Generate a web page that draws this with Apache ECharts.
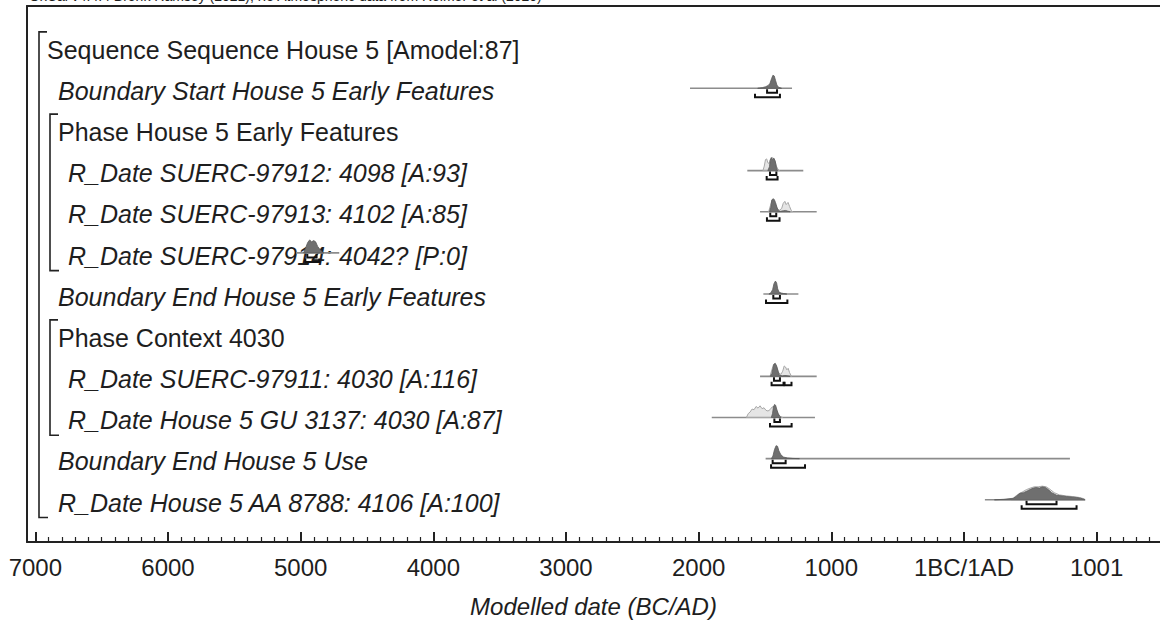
<!DOCTYPE html>
<html>
<head>
<meta charset="utf-8">
<script src="https://cdn.jsdelivr.net/npm/echarts@6/dist/echarts.min.js"></script>
<style>
  html, body { margin: 0; padding: 0; background: #fff; }
  #chart { width: 1160px; height: 628px; }
</style>
</head>
<body>
<div id="chart"></div>
<script>
// OxCal-style multiplot of the House 5 sequence model.
// Calendar years: BC negative, 0 = 1BC/1AD.

const rowLabels = [
  'Sequence Sequence House 5 [Amodel:87]',
  'Boundary Start House 5 Early Features',
  'Phase House 5 Early Features',
  'R_Date SUERC-97912: 4098 [A:93]',
  'R_Date SUERC-97913: 4102 [A:85]',
  'R_Date SUERC-97914: 4042? [P:0]',
  'Boundary End House 5 Early Features',
  'Phase Context 4030',
  'R_Date SUERC-97911: 4030 [A:116]',
  'R_Date House 5 GU 3137: 4030 [A:87]',
  'Boundary End House 5 Use',
  'R_Date House 5 AA 8788: 4106 [A:100]'
];
const rowKinds = ['sequence', 'boundary', 'phase', 'inner', 'inner', 'inner',
  'boundary', 'phase', 'inner', 'inner', 'boundary', 'date'];

// structure brackets: [first row, last row, nesting depth]
const groupBrackets = [[0, 11, 0], [2, 5, 1], [7, 9, 1]];

const tickValues = [-7000, -6000, -5000, -4000, -3000, -2000, -1000, 0, 1000];
const tickLabels = ['7000', '6000', '5000', '4000', '3000', '2000', '1000', '1BC/1AD', '1001'];

// Boundary Start House 5 Early Features
const startEarlySpan = [-2065, -1296];
const startEarlyPost = [[-1555, 0], [-1520, 0.05], [-1495, 0.12], [-1475, 0.22], [-1462, 0.38],
  [-1450, 0.75], [-1440, 1], [-1430, 0.95], [-1420, 0.6], [-1410, 0.25], [-1398, 0.08], [-1375, 0]];
const startEarlyPrior = [];
const startEarlyR68 = [[-1484, -1409]];
const startEarlyR95 = [[-1575, -1387]];

// R_Date SUERC-97912
const s97912Span = [-1633, -1211];
const s97912Post = [[-1478, 0], [-1466, 0.3], [-1460, 0.8], [-1452, 1], [-1442, 0.85], [-1432, 0.95],
  [-1422, 0.7], [-1413, 0.2], [-1405, 0]];
const s97912Prior = [[-1515, 0], [-1505, 0.35], [-1496, 0.85], [-1487, 0.9], [-1478, 0.6], [-1468, 0.55],
  [-1458, 0.9], [-1446, 1], [-1435, 0.95], [-1425, 0.75], [-1414, 0.35], [-1402, 0.1], [-1390, 0]];
const s97912R68 = [[-1462, -1414]];
const s97912R95 = [[-1487, -1405]];

// R_Date SUERC-97913
const s97913Span = [-1537, -1110];
const s97913Post = [[-1466, 0], [-1456, 0.35], [-1448, 0.9], [-1440, 1], [-1430, 0.95], [-1420, 0.7],
  [-1410, 0.35], [-1400, 0.1], [-1385, 0.03], [-1360, 0.08], [-1345, 0.1], [-1330, 0.05], [-1310, 0]];
const s97913Prior = [[-1472, 0], [-1458, 0.5], [-1447, 0.9], [-1436, 0.85], [-1422, 0.6], [-1406, 0.22],
  [-1390, 0.12], [-1374, 0.25], [-1362, 0.65], [-1350, 0.8], [-1340, 0.55], [-1326, 0.72], [-1314, 0.4],
  [-1302, 0.1], [-1290, 0]];
const s97913R68 = [[-1460, -1415]];
const s97913R95 = [[-1485, -1390]];

// R_Date SUERC-97914 (outlier)
const s97914Span = [-5034, -4709];
const s97914Post = [[-4978, 0], [-4962, 0.4], [-4947, 0.8], [-4932, 1], [-4917, 0.85], [-4902, 0.95],
  [-4887, 0.85], [-4872, 0.5], [-4857, 0.3], [-4842, 0.1], [-4825, 0]];
const s97914Prior = [];
const s97914R68 = [[-4950, -4880]];
const s97914R95 = [[-4965, -4860]];

// Boundary End House 5 Early Features
const endEarlySpan = [-1512, -1248];
const endEarlyPost = [[-1470, 0], [-1455, 0.1], [-1442, 0.35], [-1432, 0.8], [-1421, 1], [-1412, 0.85],
  [-1404, 0.4], [-1394, 0.15], [-1378, 0.08], [-1358, 0.04], [-1335, 0]];
const endEarlyPrior = [];
const endEarlyR68 = [[-1437, -1387]];
const endEarlyR95 = [[-1492, -1331]];

// R_Date SUERC-97911
const s97911Span = [-1537, -1110];
const s97911Post = [[-1460, 0], [-1448, 0.2], [-1440, 0.6], [-1432, 0.95], [-1422, 1], [-1412, 0.8],
  [-1402, 0.4], [-1392, 0.1], [-1370, 0.03], [-1350, 0.06], [-1330, 0.04], [-1310, 0]];
const s97911Prior = [[-1462, 0], [-1448, 0.5], [-1436, 0.9], [-1422, 0.9], [-1410, 0.7], [-1395, 0.25],
  [-1380, 0.15], [-1366, 0.4], [-1355, 0.8], [-1345, 0.72], [-1335, 0.5], [-1325, 0.62], [-1315, 0.3],
  [-1300, 0]];
const s97911R68 = [[-1432, -1387]];
const s97911R95 = [[-1450, -1360], [-1352, -1300]];

// R_Date House 5 GU 3137
const gu3137Span = [-1901, -1123];
const gu3137Post = [[-1452, 0], [-1443, 0.3], [-1436, 0.8], [-1428, 1], [-1420, 0.95], [-1410, 0.6],
  [-1400, 0.3], [-1390, 0.1], [-1378, 0]];
const gu3137Prior = [[-1640, 0], [-1626, 0.3], [-1612, 0.42], [-1597, 0.65], [-1582, 0.6], [-1567, 0.85],
  [-1552, 0.72], [-1537, 0.9], [-1522, 0.68], [-1507, 0.75], [-1492, 0.55], [-1477, 0.5], [-1462, 0.6],
  [-1447, 0.8], [-1432, 0.85], [-1417, 0.6], [-1402, 0.3], [-1387, 0.1], [-1365, 0]];
const gu3137R68 = [[-1429, -1387]];
const gu3137R95 = [[-1462, -1299]];

// Boundary End House 5 Use
const endUseSpan = [-1495, 799];
const endUsePost = [[-1452, 0], [-1440, 0.2], [-1428, 0.7], [-1416, 1], [-1405, 0.95], [-1395, 0.6],
  [-1380, 0.3], [-1360, 0.12], [-1330, 0.06], [-1290, 0.02], [-1240, 0]];
const endUsePrior = [];
const endUseR68 = [[-1442, -1344]];
const endUseR95 = [[-1454, -1198]];

// R_Date House 5 AA 8788
const aa8788Span = [158, 912];
const aa8788Post = [[230, 0], [300, 0.04], [372, 0.12], [400, 0.3], [422, 0.5], [450, 0.55], [480, 0.7],
  [510, 0.85], [540, 0.95], [570, 0.9], [590, 1], [615, 0.95], [640, 0.75], [661, 0.55], [680, 0.45],
  [698, 0.35], [740, 0.3], [774, 0.25], [810, 0.22], [849, 0.18], [880, 0.12], [900, 0.05], [912, 0]];
const aa8788Prior = [[360, 0], [380, 0.2], [410, 0.45], [440, 0.6], [470, 0.78], [500, 0.9], [530, 1],
  [560, 1], [590, 1.05], [620, 1], [650, 0.8], [680, 0.55], [720, 0.38], [770, 0.3], [820, 0.25],
  [870, 0.18], [905, 0.08], [915, 0]];
const aa8788R68 = [[472, 698]];
const aa8788R95 = [[435, 849]];

const plotted = [
  { row: 1, span: startEarlySpan, post: startEarlyPost, prior: startEarlyPrior, r68: startEarlyR68, r95: startEarlyR95 },
  { row: 3, span: s97912Span, post: s97912Post, prior: s97912Prior, r68: s97912R68, r95: s97912R95 },
  { row: 4, span: s97913Span, post: s97913Post, prior: s97913Prior, r68: s97913R68, r95: s97913R95 },
  { row: 5, span: s97914Span, post: s97914Post, prior: s97914Prior, r68: s97914R68, r95: s97914R95 },
  { row: 6, span: endEarlySpan, post: endEarlyPost, prior: endEarlyPrior, r68: endEarlyR68, r95: endEarlyR95 },
  { row: 8, span: s97911Span, post: s97911Post, prior: s97911Prior, r68: s97911R68, r95: s97911R95 },
  { row: 9, span: gu3137Span, post: gu3137Post, prior: gu3137Prior, r68: gu3137R68, r95: gu3137R95 },
  { row: 10, span: endUseSpan, post: endUsePost, prior: endUsePrior, r68: endUseR68, r95: endUseR95 },
  { row: 11, span: aa8788Span, post: aa8788Post, prior: aa8788Prior, r68: aa8788R68, r95: aa8788R95 }
];

// plot area runs from x=27 to the right edge of the page; the frame continues past it
const X_MIN = -7063, X_MAX = 1478;
const FONT = '"Liberation Sans", Arial, Helvetica, sans-serif';
const TEXT = '#1e1e1e';
const FRAME = '#222';
const PEAK = 13;        // pixel height of a normalised distribution
const LABEL_DY = 2.7;   // label centre sits slightly below the distribution baseline

const minorTicks = [];
for (let v = -7000; v <= 1400; v += 100) {
  if (v % 1000 !== 0) minorTicks.push(v);
}

function shapePoints(points, row, api) {
  return points.map(function (p) {
    const c = api.coord([p[0], row]);
    return [c[0], c[1] - p[1] * PEAK];
  });
}

function rangeBar(r, row, api, dy) {
  const a = api.coord([r[0], row]);
  const b = api.coord([r[1], row]);
  const y = a[1] + dy;
  return {
    type: 'polyline',
    shape: { points: [[a[0], y - 3.5], [a[0], y], [b[0], y], [b[0], y - 3.5]] },
    style: { stroke: '#111', lineWidth: 2, fill: null }
  };
}

const indent = { sequence: 20, boundary: 31, phase: 31, date: 31, inner: 41 };

const option = {
  animation: false,
  backgroundColor: '#fff',
  grid: { left: 27, top: 6, right: 0, bottom: 86, show: false },
  xAxis: [{
    type: 'value', min: X_MIN, max: X_MAX, position: 'bottom',
    name: 'Modelled date (BC/AD)', nameLocation: 'middle', nameGap: 52,
    nameTextStyle: { fontFamily: FONT, fontSize: 24, fontStyle: 'italic', color: TEXT },
    splitLine: { show: false },
    axisLine: { show: true, onZero: false, lineStyle: { color: FRAME, width: 2 } },
    axisTick: { show: true, inside: true, length: 10, customValues: tickValues, lineStyle: { color: FRAME, width: 2 } },
    axisLabel: {
      show: true, customValues: tickValues, margin: 13,
      fontFamily: FONT, fontSize: 24, color: TEXT,
      formatter: function (v) {
        const i = tickValues.indexOf(v);
        return i >= 0 ? tickLabels[i] : '';
      }
    }
  }, {
    type: 'value', min: X_MIN, max: X_MAX, position: 'bottom', gridIndex: 0,
    splitLine: { show: false },
    axisLine: { show: false, onZero: false },
    axisTick: { show: true, inside: true, length: 5, customValues: minorTicks, lineStyle: { color: FRAME, width: 1.2 } },
    axisLabel: { show: false }
  }, {
    // top edge of the frame
    type: 'value', min: X_MIN, max: X_MAX, position: 'top', gridIndex: 0,
    splitLine: { show: false },
    axisLine: { show: true, onZero: false, lineStyle: { color: FRAME, width: 2 } },
    axisTick: { show: false }, axisLabel: { show: false }
  }],
  yAxis: {
    type: 'value', min: -1, max: 12.025, inverse: true, position: 'left',
    splitLine: { show: false },
    axisLine: { show: true, onZero: false, lineStyle: { color: FRAME, width: 2 } },
    axisTick: { show: false }, axisLabel: { show: false }
  },
  graphic: [{
    type: 'text', left: 29, top: -11, silent: true,
    style: {
      text: 'OxCal v4.4.4 Bronk Ramsey (2021); r:5 Atmospheric data from Reimer et al (2020)',
      font: '14px ' + FONT, fill: TEXT
    }
  }],
  series: [
    // row labels
    {
      type: 'custom', z: 1, silent: true,
      data: rowLabels.map(function (t, i) { return [X_MIN, i]; }),
      renderItem: function (params, api) {
        const i = params.dataIndex;
        const c = api.coord([X_MIN, i]);
        const kind = rowKinds[i];
        const italic = (kind === 'boundary' || kind === 'date' || kind === 'inner');
        return {
          type: 'text',
          x: c[0] + indent[kind], y: c[1] + LABEL_DY,
          style: {
            text: rowLabels[i],
            font: (italic ? 'italic ' : '') + '25px ' + FONT,
            fill: TEXT, align: 'left', verticalAlign: 'middle',
            textAlign: 'left', textVerticalAlign: 'middle'
          }
        };
      }
    },
    // structure brackets (sequence and phases)
    {
      type: 'custom', z: 2, silent: true,
      data: groupBrackets,
      renderItem: function (params, api) {
        const g = groupBrackets[params.dataIndex];
        const top = api.coord([X_MIN, g[0]]);
        const bot = api.coord([X_MIN, g[1]]);
        const x = top[0] + 12 + g[2] * 11;
        const y0 = top[1] + LABEL_DY - 18;
        const y1 = bot[1] + LABEL_DY + 15;
        return {
          type: 'polyline',
          shape: { points: [[x + 8, y0], [x, y0], [x, y1], [x + 9, y1]] },
          style: { stroke: FRAME, lineWidth: 1.6, fill: null }
        };
      }
    },
    // distribution extent lines
    {
      type: 'custom', z: 3, silent: true,
      data: plotted.map(function (d) { return [d.span[0], d.row]; }),
      renderItem: function (params, api) {
        const d = plotted[params.dataIndex];
        const a = api.coord([d.span[0], d.row]);
        const b = api.coord([d.span[1], d.row]);
        return {
          type: 'line',
          shape: { x1: a[0], y1: a[1], x2: b[0], y2: b[1] },
          style: { stroke: '#8c8c8c', lineWidth: 1.6 }
        };
      }
    },
    // unmodelled (prior) distributions
    {
      type: 'custom', z: 4, silent: true,
      data: plotted.map(function (d) { return [d.span[0], d.row]; }),
      renderItem: function (params, api) {
        const d = plotted[params.dataIndex];
        if (!d.prior.length) return null;
        return {
          type: 'polygon',
          shape: { points: shapePoints(d.prior, d.row, api) },
          style: { fill: 'rgba(180,180,180,0.35)', stroke: '#a8a8a8', lineWidth: 1 }
        };
      }
    },
    // modelled (posterior) distributions
    {
      type: 'custom', z: 5, silent: true,
      data: plotted.map(function (d) { return [d.span[0], d.row]; }),
      renderItem: function (params, api) {
        const d = plotted[params.dataIndex];
        return {
          type: 'polygon',
          shape: { points: shapePoints(d.post, d.row, api) },
          style: { fill: '#6f6f6f', stroke: '#5a5a5a', lineWidth: 0.8 }
        };
      }
    },
    // 68.3% and 95.4% range bars
    {
      type: 'custom', z: 6, silent: true,
      data: plotted.map(function (d) { return [d.span[0], d.row]; }),
      renderItem: function (params, api) {
        const d = plotted[params.dataIndex];
        const children = [];
        d.r68.forEach(function (r) { children.push(rangeBar(r, d.row, api, 4.5)); });
        d.r95.forEach(function (r) { children.push(rangeBar(r, d.row, api, 9)); });
        return { type: 'group', children: children };
      }
    }
  ]
};

const chart = echarts.init(document.getElementById('chart'), null, { renderer: 'svg', width: 1160, height: 628 });
chart.setOption(option);
</script>
</body>
</html>
